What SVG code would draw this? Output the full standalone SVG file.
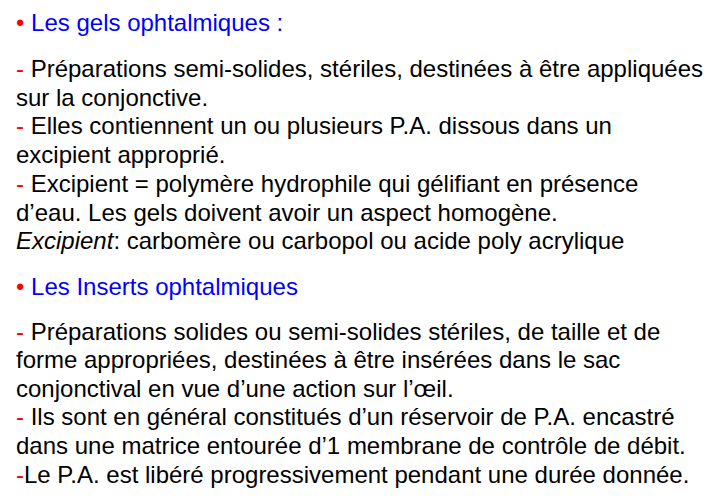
<svg xmlns="http://www.w3.org/2000/svg" width="724" height="504" viewBox="0 0 724 504">
<style>
text{font-family:"Liberation Sans",Arial,sans-serif;font-size:24px;fill:#000}
.r{fill:#FF0000}
.b{fill:#0000FF}
.i{font-style:italic}
</style>
<rect width="724" height="504" fill="#fff"/>
<g id="gels">
<text x="16" y="31"><tspan class="r">•</tspan><tspan class="b"> Les gels ophtalmiques :</tspan></text>
<text x="16" y="77"><tspan class="r">-</tspan> Préparations semi-solides, stériles, destinées à être appliquées</text>
<text x="16" y="105.7">sur la conjonctive.</text>
<text x="16" y="134.4"><tspan class="r">-</tspan> Elles contiennent un ou plusieurs P.A. dissous dans un</text>
<text x="16" y="163">excipient approprié.</text>
<text x="16" y="191.8"><tspan class="r">-</tspan> Excipient = polymère hydrophile qui gélifiant en présence</text>
<text x="16" y="220.5">d’eau. Les gels doivent avoir un aspect homogène.</text>
<text x="16" y="249"><tspan class="i">Excipient</tspan>: carbomère ou carbopol ou acide poly acrylique</text>
</g>
<g id="inserts">
<text x="16" y="295"><tspan class="r">•</tspan><tspan class="b"> Les Inserts ophtalmiques</tspan></text>
<text x="16" y="339.5"><tspan class="r">-</tspan> Préparations solides ou semi-solides stériles, de taille et de</text>
<text x="16" y="368">forme appropriées, destinées à être insérées dans le sac</text>
<text x="16" y="396.7">conjonctival en vue d’une action sur l’œil.</text>
<text x="16" y="425.3"><tspan class="r">-</tspan> Ils sont en général constitués d’un réservoir de P.A. encastré</text>
<text x="16" y="454">dans une matrice entourée d’1 membrane de contrôle de débit.</text>
<text x="16" y="482.5"><tspan class="r">-</tspan>Le P.A. est libéré progressivement pendant une durée donnée.</text>
</g>
</svg>
